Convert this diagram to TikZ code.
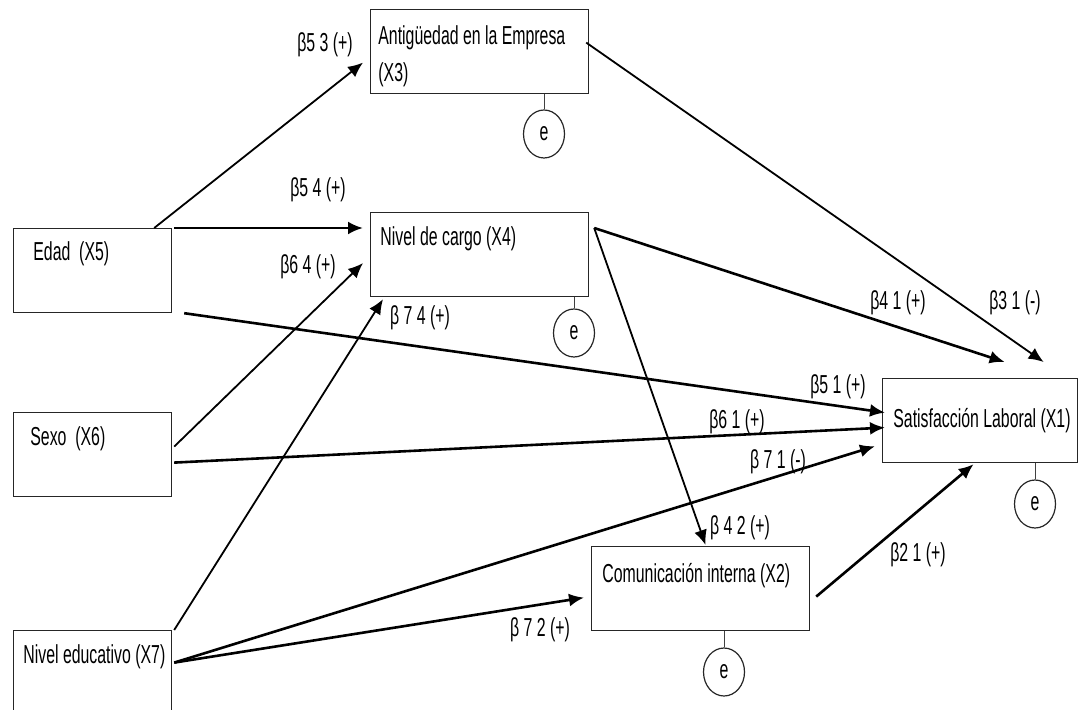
\documentclass[tikz,border=0pt]{standalone}
\usepackage{fontspec}
\setmainfont[FakeStretch=0.61]{Liberation Sans}
\usepackage{tikz}
\usetikzlibrary{arrows.meta,shapes.geometric}
\tikzset{
  pathbox/.style={draw=black!85, line width=0.6pt, anchor=north west,
    inner sep=0pt, minimum width=109pt, minimum height=42pt},
  pathtext/.style={anchor=mid west, inner sep=0pt, align=left,
    font=\fontsize{13}{18.5}\selectfont},
  pathcoef/.style={inner sep=0pt, font=\fontsize{13}{15}\selectfont},
  patharrow/.style={-{Latex[length=7.5pt,width=6.5pt]}, line width=1.3pt},
  paththin/.style={patharrow, line width=0.9pt},
  patherr/.style={ellipse, draw=black!85, line width=0.6pt,
    minimum width=20.5pt, minimum height=24pt, inner sep=0pt,
    font=\fontsize{13}{15}\selectfont},
  pathstub/.style={draw=black!75, line width=0.5pt}
}

\begin{document}
\begin{tikzpicture}[x=0.5pt, y=-0.5pt]
  \path[use as bounding box, fill=white] (0,0) rectangle (1079,710);

  % variables
  \node[pathbox, label={[pathtext, anchor=north west, xshift=4pt,
    yshift=-8pt]north west:Antigüedad en la Empresa\\(X3)}] (x3)
    at (370,9) {};
  \node[pathbox, label={[pathtext, xshift=5pt, yshift=-14pt]north
    west:Nivel de cargo (X4)}] (x4) at (370,212) {};
  \node[pathbox, minimum width=79pt, label={[pathtext, xshift=10pt,
    yshift=-13.5pt]north west:Edad\ \ (X5)}] (x5) at (13,228) {};
  \node[pathbox, minimum width=79pt, label={[pathtext, xshift=8.5pt,
    yshift=-14pt]north west:Sexo\ \ (X6)}] (x6) at (13,412) {};
  \node[pathbox, minimum width=79pt, label={[pathtext, xshift=5pt,
    yshift=-14pt]north west:Nivel educativo (X7)}] (x7) at (13,630) {};
  \node[pathbox, minimum width=97.5pt, label={[pathtext, xshift=5.5pt,
    yshift=-1pt]west:Satisfacción Laboral (X1)}] (x1) at (882,378) {};
  \node[pathbox, label={[pathtext, xshift=5.5pt, yshift=-15.5pt]north
    west:Comunicación interna (X2)}] (x2) at (591,546) {};

  % error terms
  \node[patherr] (e3) at (544,134) {e};
  \node[patherr] (e4) at (574,333) {e};
  \node[patherr] (e1) at (1035,504) {e};
  \node[patherr] (e2) at (724,672) {e};
  \draw[pathstub] (e3) -- (e3 |- x3.south);
  \draw[pathstub] (e4) -- (e4 |- x4.south);
  \draw[pathstub] (e1) -- (e1 |- x1.south);
  \draw[pathstub] (e2) -- (e2 |- x2.south);

  % paths
  \draw[paththin] ([shift={(-18,0)}]x5.north east)
    -- ([shift={(-7,11)}]x3.west);
  \draw[patharrow] ([shift={(2,0)}]x5.north east)
    -- ([shift={(-7,16)}]x4.north west);
  \draw[patharrow] ([shift={(12,0)}]x5.south east)
    -- ([shift={(3,-8)}]x1.west);
  \draw[paththin] ([shift={(2,-8)}]x6.east)
    -- ([shift={(-7,8.5)}]x4.west);
  \draw[patharrow] ([shift={(2,8)}]x6.east)
    -- ([shift={(3,7)}]x1.west);
  \draw[paththin] ([shift={(2,0)}]x7.north east)
    -- ([shift={(13,2)}]x4.south west);
  \draw[patharrow] ([shift={(2,-10)}]x7.east)
    -- ([shift={(-7,-17)}]x1.south west);
  \draw[patharrow] ([shift={(2,-10)}]x7.east)
    -- ([shift={(-7,9)}]x2.west);
  \draw[paththin] ([shift={(-3,-9)}]x3.east)
    -- ([shift={(63.5,-16)}]x1.north);
  \draw[patharrow] ([shift={(5,16)}]x4.north east)
    -- ([shift={(24.5,-16)}]x1.north);
  \draw[paththin] ([shift={(5,16)}]x4.north east)
    -- ([shift={(5,-1)}]x2.north);
  \draw[patharrow] ([shift={(6,8)}]x2.east)
    -- ([shift={(-6.5,1)}]x1.south);

  % coefficients
  \node[pathcoef] (b53) at (325,45) {β5 3 (+)};
  \node[pathcoef] (b54) at (318,190) {β5 4 (+)};
  \node[pathcoef] (b64) at (308,267) {β6 4 (+)};
  \node[pathcoef] (b74) at (420,318) {β 7 4 (+)};
  \node[pathcoef] (b41) at (898,303) {β4 1 (+)};
  \node[pathcoef] (b31) at (1015,303) {β3 1 (-)};
  \node[pathcoef] (b51) at (838,387) {β5 1 (+)};
  \node[pathcoef] (b61) at (737,422) {β6 1 (+)};
  \node[pathcoef] (b71) at (778,462) {β 7 1 (-)};
  \node[pathcoef] (b42) at (740,528) {β 4 2 (+)};
  \node[pathcoef] (b72) at (540,630) {β 7 2 (+)};
  \node[pathcoef] (b21) at (918,555) {β2 1 (+)};
\end{tikzpicture}
\end{document}
